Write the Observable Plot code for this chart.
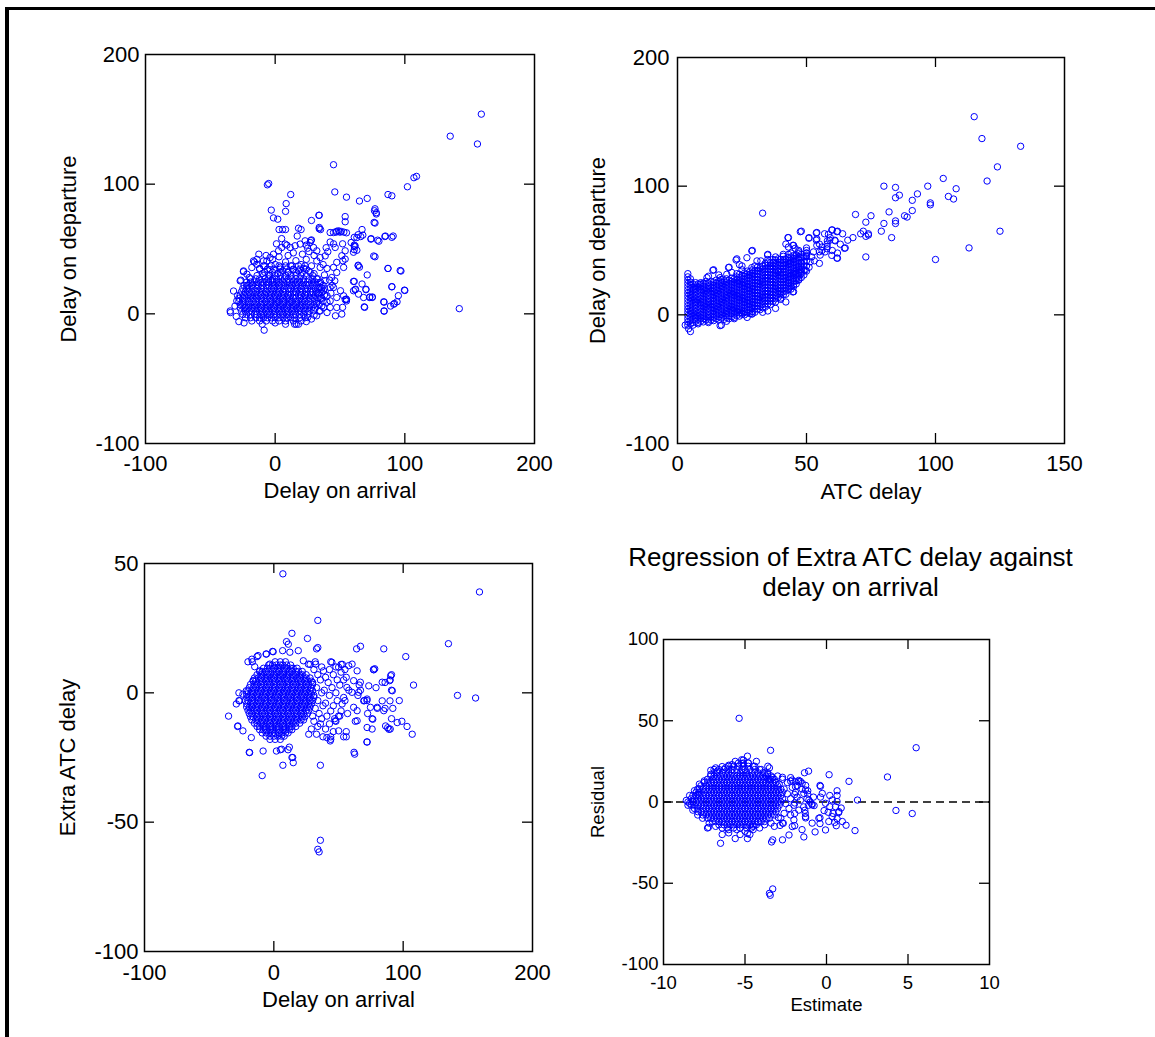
<!DOCTYPE html>
<html>
<head>
<meta charset="utf-8">
<script src="https://cdn.jsdelivr.net/npm/d3@7"></script>
<script src="https://cdn.jsdelivr.net/npm/@observablehq/plot@0.6"></script>
<style>
html,body{margin:0;padding:0;background:#fff;}
#wrap{position:relative;width:1155px;height:1037px;overflow:hidden;background:#fff;font-family:Arial,"Liberation Sans",sans-serif;}
#wrap svg{position:absolute;}
#border{position:absolute;left:5px;top:7px;width:1300px;height:1200px;border-left:4px solid #000;border-top:3px solid #000;pointer-events:none;z-index:5;}
</style>
</head>
<body>
<div id="wrap"><div id="border"></div></div>
<script>
// ---------- axis ticks & labels ----------
const arrTicks = [-100, 0, 100, 200];
const arrInner = [0, 100];
const depTicks = [-100, 0, 100, 200];
const depInner = [0, 100];
const atcTicks = [0, 50, 100, 150];
const atcInner = [50, 100];
const extraTicks = [-100, -50, 0, 50];
const extraInner = [-50, 0];
const estTicks = [-10, -5, 0, 5, 10];
const estInner = [-5, 0, 5];
const resTicks = [-100, -50, 0, 50, 100];
const resInner = [-50, 0, 50];
const labels = {
  arrival: "Delay on arrival",
  departure: "Delay on departure",
  atc: "ATC delay",
  extra: "Extra ATC delay",
  estimate: "Estimate",
  residual: "Residual",
  title: "Regression of Extra ATC delay against\ndelay on arrival"
};

// ---------- Panel 1: departure vs arrival ----------
const p1CoreRows = [
[37,[-9,-3,3,8,13,18,23]],
[34.5,[-12,-6,-1,4,9,14,19,24]],
[32,[-8,-2,4,10,16,21,27]],
[29.5,[-14,-9,-4,0,4,8,12,16,20,24,29]],
[27,[-19,-15,-12,-8,-5,-2,1,4,7,10,13,16,19,22,26,29,33]],
[24.5,[-22,-19,-16,-13,-10,-7,-5,-2,1,3,6,9,11,14,17,19,22,25,28,31,35]],
[22,[-24,-21,-18,-15,-13,-10,-7,-5,-2,0,3,5,8,11,13,16,18,21,24,26,29,32,37]],
[19.5,[-25,-22,-20,-17,-14,-11,-9,-6,-3,-1,2,4,7,10,12,15,17,20,23,25,28,31,34,38]],
[17,[-26,-23,-20,-18,-15,-12,-10,-7,-4,-2,1,3,6,8,11,14,16,19,21,24,27,29,32,36]],
[14.5,[-27,-24,-21,-19,-16,-13,-11,-8,-5,-3,0,2,5,7,10,12,15,18,20,23,25,28,31,34,38]],
[12,[-28,-25,-22,-19,-17,-14,-11,-9,-6,-4,-1,1,4,6,9,11,14,16,19,22,24,27,30,33,36]],
[9.5,[-28,-25,-23,-20,-17,-15,-12,-10,-7,-4,-2,1,3,6,8,11,13,16,18,21,23,26,29,32,37]],
[7,[-27,-25,-22,-19,-16,-14,-11,-9,-6,-4,-1,1,4,6,9,11,14,16,19,21,24,27,30,34]],
[4.5,[-27,-24,-21,-18,-16,-13,-11,-8,-6,-3,-1,2,4,7,9,12,14,17,19,22,25,28,31]],
[2,[-26,-23,-20,-18,-15,-12,-10,-7,-5,-2,0,3,5,8,10,13,15,18,20,23,26]],
[-0.5,[-25,-22,-19,-16,-14,-11,-9,-6,-4,-1,1,4,6,9,11,14,16,19,22,25]],
[-3,[-23,-19,-15,-12,-9,-6,-3,0,3,6,9,12,15,19,23]],
[-5.5,[-18,-12,-7,-2,3,8,14,20]]
];
const p1Points = [
[159,154],[135,137],[156,131],[45,115],[-6,99.5],[-5,100.5],[109,106],[107,105],[102,98],[46,94],[12,92],[55,90],[87,92],[90,91],[71,89],[65,87],[8.5,85],[-3,80],[8,79],[77,81],[78,78],[78,77],[2,73],[34,76],[28,72],[54,75],[54,71],[77,70],[67,65],[3,65],[8,65],[20,65],[34,65.6],[35,65],[17,60],[5,58],[47,63],[49,64],[51,63.5],[53,63],[55,62.5],[64,61],[61,59],[74,58],[80,56],[85,60],[90,59],[91,60],[52,54],[61,53],[63,49],[61,49.5],[1,54],[9,53],[24,53],[28,57],[77,44],[64,37],[65,36],[71,30],[87,35],[97,33],[61,25],[62,19],[67,23],[70,19],[90,21],[100,18],[73,13],[75,13],[95,14],[69,5],[84,9],[92,8],[89,6],[84,2],[142,4],[54,11],[55,11],[52,5],[-8.5,-12.6],[-34.5,1],[-24.5,32.5],[-26.5,26],[-12.6,46],[-16,40],[15,-8],[18,-8],
[-1.3,74],[5.7,65],[18,66],[33.7,76],[47.5,63.7],[50,63],[63,58.8],[66,59.6],[67.6,60.7],[58.6,55],[61.7,52.4],[73.8,57.6],[76.6,79.5],[76.3,70.5],[84.6,59.6],[79,56.8],[76,44.6],[64,37.5],[96.4,33.4],[87,35],[90,20.8],[99.7,18.3],[70,18.6],[72.8,12.6],[74.8,12.6],[60.4,25],[61.7,18.6],[55,9.9],[83.7,9.3],[91.4,7.4],[94,9.3],[84,2.3],[68.7,5.4],[27.5,56.5],[25,50.6],[42.4,62.7],[45,62.7],[39.3,51],[40.6,47.9],[42.4,55.4],[45,54],[46.3,51.2],[34,66.6],[54,48.6],[51.4,44.8],[52.2,40.9],[61,52],[60.4,47.5],[54,42.2],[52.8,35.8],[45,35.8],[47.5,31.9],[46,25.5],[45,20.3],[50.4,17.8],[52.8,13.9],[54.8,11.4],[60.4,17.8],[64.3,15.2],[68.2,12.6],[51.4,-0.2],[46.5,-1.5],[34.7,2.3],[40,1],[16.3,-8],[25,-2.8],[32,-1.5],[29.6,2.3],[37.3,4.9],[42.4,4.9],[47.5,4.9],[42.4,10],[47.5,12.6],[40,13.9],[37.3,17.8],[34.7,20.3],[42.4,20.3],[38.5,25.5],[43.6,28],[47.5,39.7],[34.7,35.8],[32.1,40.8],[34.7,43.4],[38.6,44.7],[32.1,48.6],[29.6,51.2],[27,55],[23.1,56.3],[19.3,53.8],[15.4,52.5],[11.6,51.2],[7.7,53.8],[5.1,51.2],[2.6,48.6],[-1.3,46],[-3.9,43.4],[-6.4,40.8],[-9,40.8],[-14.2,38.2],[-16.7,40.8],[-18,35.7],[-21.8,30.6],[-24.4,33.1],[-27,25.4],[-32.1,17.6],[-34.7,2.2],[-29.6,10],[-23.1,4.9],
[-12,35],[-8,37],[-4,34],[0,38],[4,36],[8,40],[12,37],[16,41],[20,38],[24,42],[28,37],[-10,31],[-5,30],[2,31],[6,33],[10,32],[14,34],[18,33],[22,35],[26,33],[30,31],[32,27],[34,24],[36,20],[33,16],[35,12],[32,8],[36,6],[34,2],[-2,42],[3,44],[10,45],[14,47],[21,46],[26,48],[30,45],[-14,42],[-7,45],[38,30],[40,35],[37,38],[42,26],[44,22],[40,9],[43,16],[-20,28],[-22,22],[-29,14],[-31,6],[-30,-2],[-28,-6],[-24,-7],[-10,-8],[0,-7],[8,-8],[24,-6],[28,-4],[30,-1]
];

// ---------- Panel 2: departure vs ATC delay ----------
const p2CoreCols = [
[4,[-8,-5.5,-3,-0.5,2,4.5,7,9.5,12,14.5,17,19.5,22,24.5,27,29.5,32]],
[5,[-7,-4.5,-2,0.5,3,5.5,8,10.5,13,15.5,18,20.5,23,25.5,28]],
[6,[-6,-3.5,-1,1.5,4,6.5,9,11.5,14,16.5,19,21.5,24]],
[7,[-5,-2.5,0,2.5,5,7.5,10,12.5,15,17.5,20,22.5,25]],
[8,[-6,-3.5,-1,1.5,4,6.5,9,11.5,14,16.5,19,21.5,24]],
[9,[-5,-2.5,0,2.5,5,7.5,10,12.5,15,17.5,20,22.5,25]],
[10,[-5.5,-3,-0.5,2,4.5,7,9.5,12,14.5,17,19.5,22,24.5]],
[11,[-4,-1.5,1,3.5,6,8.5,11,13.5,16,18.5,21,23.5,26]],
[12,[-5,-2.5,0,2.5,5,7.5,10,12.5,15,17.5,20,22.5,25]],
[13,[-4,-1.5,1,3.5,6,8.5,11,13.5,16,18.5,21,23.5,26]],
[14,[-4.5,-2,0.5,3,5.5,8,10.5,13,15.5,18,20.5,23,25.5]],
[15,[-3,-0.5,2,4.5,7,9.5,12,14.5,17,19.5,22,24.5,27]],
[16,[-4,-1.5,1,3.5,6,8.5,11,13.5,16,18.5,21,23.5,26]],
[17,[-2.5,0,2.5,5,7.5,10,12.5,15,17.5,20,22.5,25,27.5]],
[18,[-3.5,-1,1.5,4,6.5,9,11.5,14,16.5,19,21.5,24,26.5]],
[19,[-2,0.5,3,5.5,8,10.5,13,15.5,18,20.5,23,25.5,28]],
[20,[-3,-0.5,2,4.5,7,9.5,12,14.5,17,19.5,22,24.5,27]],
[21,[-1.5,1,3.5,6,8.5,11,13.5,16,18.5,21,23.5,26,28.5]],
[22,[-2,0.5,3,5.5,8,10.5,13,15.5,18,20.5,23,25.5,28]],
[23,[-0.5,2,4.5,7,9.5,12,14.5,17,19.5,22,24.5,27,29.5,32]],
[24,[-1,1.5,4,6.5,9,11.5,14,16.5,19,21.5,24,26.5,29,31.5]],
[25,[0.5,3,5.5,8,10.5,13,15.5,18,20.5,23,25.5,28,30.5]],
[26,[0,2.5,5,7.5,10,12.5,15,17.5,20,22.5,25,27.5,30,32.5]],
[27,[1.5,4,6.5,9,11.5,14,16.5,19,21.5,24,26.5,29,31.5,34]],
[28,[1,3.5,6,8.5,11,13.5,16,18.5,21,23.5,26,28.5,31,33.5]],
[29,[2.5,5,7.5,10,12.5,15,17.5,20,22.5,25,27.5,30,32.5,35]],
[30,[2,4.5,7,9.5,12,14.5,17,19.5,22,24.5,27,29.5,32,34.5]],
[31,[4.5,7,9.5,12,14.5,17,19.5,22,24.5,27,29.5,32,34.5,37]],
[32,[4,6.5,9,11.5,14,16.5,19,21.5,24,26.5,29,31.5,34,36.5]],
[33,[5.5,8,10.5,13,15.5,18,20.5,23,25.5,28,30.5,33,35.5,38]],
[34,[6,8.5,11,13.5,16,18.5,21,23.5,26,28.5,31,33.5,36,38.5]],
[35,[8.5,11,13.5,16,18.5,21,23.5,26,28.5,31,33.5,36,38.5,41]],
[36,[8,10.5,13,15.5,18,20.5,23,25.5,28,30.5,33,35.5,38,40.5]],
[37,[10.5,13,15.5,18,20.5,23,25.5,28,30.5,33,35.5,38,40.5,43]],
[38,[10,12.5,15,17.5,20,22.5,25,27.5,30,32.5,35,37.5,40,42.5]],
[39,[13.5,16,18.5,21,23.5,26,28.5,31,33.5,36,38.5,41,43.5]],
[40,[13,15.5,18,20.5,23,25.5,28,30.5,33,35.5,38,40.5,43]],
[41,[15.5,18,20.5,23,25.5,28,30.5,33,35.5,38,40.5,43,45.5]],
[42,[16,18.5,21,23.5,26,28.5,31,33.5,36,38.5,41,43.5]],
[43,[19.5,22,24.5,27,29.5,32,34.5,37,39.5,42,44.5,47]],
[44,[20,22.5,25,27.5,30,32.5,35,37.5,40,42.5,45]],
[45,[23.5,26,28.5,31,33.5,36,38.5,41,43.5,46]],
[46,[24,26.5,29,31.5,34,36.5,39,41.5,44,46.5]],
[47,[27.5,30,32.5,35,37.5,40,42.5,45,47.5]],
[48,[29,32,35,38,41,44,47]],
[49,[31,34.5,38,41.5,45]],
[50,[34,38,42,46,50]]
];
const p2Points = [
[115,154],[118,137],[133,131],[124,115],[120,104],[103,106],[108,98],[105,92],[107,90],[97,100],[98,87],[98,85.5],[93,94],[91,89],[91,81],[89,76],[88,77],[80,100],[84.5,99],[84.5,91],[86,93],[82,80],[84.5,73],[84.5,71],[80,71],[79,65],[83,60],[75,77],[73,72],[69,78],[74,63],[74,62],[72,65],[71,63],[73,61],[73,45],[100,43],[113,52],[125,65],[33,79],[68,60],[66,58],[64,63],[65,52],[60,66],[62,65],[61,58],[62,44],[57,63],[59,58],[58,53],[54,64],[54,59],[55,55],[55,49],[51,60],[48,65],[43,60],[42,55],[45,54],[47,49],[50,48],[29,50],[35,47],[35,43],[14,35],[20,37],[23,43.5],[24,39],[45,18],[35,3],[29,1],[25,1.5],[17,-8],[3,-8],[5,-13],
[13.7,34.6],[22.7,42.6],[19.8,36.7],[28.8,49.6],[34.9,46.5],[30.8,41.9],[42.8,60],[43,52.7],[44.7,54],[45.6,51.7],[47.6,64.6],[50.9,59.5],[53.8,63.6],[53.8,58],[59.8,65.9],[61.8,64.6],[58.5,62.6],[59.2,60],[58.1,57.5],[61.1,57.5],[63.1,54.9],[61.8,44.1],[43.7,39.9],[45,32.2],[46.9,37.4],[49.9,45.1],[51.4,41.2],[49.5,34.8],[55.3,46.4],[57.2,48.9],[52.7,48.9],[54,54],[56,52.7],[57.9,51.4],[59.8,46.2],[64.7,51.7],[26.9,44.4],[37.2,40.6],[39.1,34.2],[35.9,35.4],[32.3,41.9],[28.8,36.7],[25,38],[19.1,31.5],[16.5,28.9],[11.4,28.9],[8.8,23.8],[6.2,19.9],[44.7,17.8],[28.8,0.5],[16.5,-8.4],[4.3,-10.8],
[12,30],[16,31],[21,33],[25,35],[30,38],[34,40],[38,45],[41,47],[44,48],[47,50],[50,52],[52,45],[48,40],[46,28],[48,33],[51,37],[53,42],[55,40],[50,48],[56,50],[58,55],[60,50],[62,48],[43,25],[45,22],[47,27],[40,12],[42,10],[38,5],[33,2],[27,-2],[22,-3],[12,-6],[8,-7],[19,-5],[6,-8]
];

// ---------- Panel 3: extra ATC delay vs arrival ----------
const p3CoreRows = [
[12,[1,5,9]],
[10.75,[-4,-1,2,5,7,10,13]],
[9.5,[-8,-5,-3,0,3,5,8,10,13,15,18]],
[8.25,[-11,-9,-6,-4,-1,2,4,7,9,12,14,17,19,22]],
[7,[-13,-10,-8,-5,-3,0,2,5,7,10,12,15,17,20,22,25]],
[5.75,[-15,-12,-10,-7,-5,-2,0,3,5,8,10,13,15,18,20,23,25,28]],
[4.5,[-16,-14,-11,-9,-6,-4,-1,1,4,6,9,11,14,16,19,21,24,26,29]],
[3.25,[-18,-15,-13,-10,-8,-5,-3,0,2,5,7,10,12,15,17,20,22,25,27,30]],
[2,[-19,-16,-14,-11,-9,-6,-4,-1,1,4,6,9,11,14,16,19,21,24,26,29]],
[0.75,[-20,-17,-15,-12,-10,-7,-5,-2,0,3,5,8,10,13,15,18,20,23,25,28,30]],
[-0.5,[-21,-18,-16,-13,-11,-8,-6,-3,-1,2,4,7,9,12,14,17,19,22,24,27,29]],
[-1.75,[-21,-19,-17,-14,-12,-9,-7,-4,-2,1,3,6,8,11,13,16,18,21,23,26,28,31]],
[-3,[-22,-20,-17,-15,-12,-10,-7,-5,-2,0,3,5,8,10,13,15,18,20,23,25,28,30]],
[-4.25,[-21,-18,-16,-13,-11,-8,-6,-3,-1,2,4,7,9,12,14,17,19,22,24,27,29]],
[-5.5,[-21,-19,-17,-14,-12,-9,-7,-4,-2,1,3,6,8,11,13,16,18,21,23,26,28]],
[-6.75,[-20,-18,-15,-13,-10,-8,-5,-3,0,2,5,7,10,12,15,17,20,22,25,27]],
[-8,[-19,-17,-14,-12,-9,-7,-4,-2,1,3,6,8,11,13,16,18,21,23,26]],
[-9.25,[-18,-16,-13,-11,-8,-6,-3,-1,2,4,7,9,12,14,17,19,22,24]],
[-10.5,[-17,-14,-12,-9,-7,-4,-2,1,3,6,8,11,13,16,18,21,23]],
[-11.75,[-15,-13,-10,-8,-5,-3,0,2,5,7,10,12,15,17,20]],
[-13,[-13,-11,-8,-6,-3,-1,2,4,7,9,12,14,17]],
[-14.25,[-11,-8,-6,-3,-1,2,4,7,9,12,14]],
[-15.5,[-9,-6,-4,-1,1,4,6,9,11]],
[-16.75,[-6,-3,0,3,6,8]],
[-18,[-3,1,5]]
];
const p3Points = [
[7,46],[159,39],[34,28],[14,23],[26,21],[33,17],[34,17.5],[64,17],[67,18],[85,17],[135,19],[102,14],[44,12],[48,10],[52,11],[53,11],[55,9],[77,9],[78,9.3],[91,7],[90,5],[108,3],[79,2],[86,4],[142,-1],[156,-2],[91,1],[97,-3],[92,-6],[80,-6],[86,-6],[66,3],[67,1],[65,-1],[70,-3],[72,-3],[72.5,-8],[76,-10],[91,-10],[99,-11],[103,-13],[107,-16],[88,-13.5],[90,-14],[76,-14],[72,-19],[62,-23],[56,-17],[56,-15],[63,-11],[48,-11],[51,-9],[44,-18],[44,-17],[36,-28],[7,-28],[-9,-32],[15,-27],[14,-25],[-19,-23],[5,-22],[11,-22],[12,-21],[-35,-9],[-27,-3],[-27,0],[-28,-13],[36,-57],[34,-60.5],[35,-61.5],[-20,12],[-17,13],[-6,15],[-1,16],[-13,14],
[9.8,19.8],[11.2,18.8],[6.8,16.3],[12.4,15.7],[-0.5,15.9],[-5.7,15],[-12.2,14.4],[-16.6,12],[-14.8,10.1],[18.9,16.3],[22.8,12.4],[26.7,11.1],[32.4,11.1],[38.4,8.5],[44.9,11.8],[50.1,9.9],[57.9,10.5],[60.5,11.1],[64.4,8.5],[73.4,2.7],[77.3,8.9],[83.8,4.1],[90.3,6.6],[89.5,4.7],[91.6,0.8],[83.8,-3.1],[89.8,-3.1],[61.7,4.7],[66.9,4.1],[56.5,2.1],[60.4,0.2],[65.6,0.2],[69.5,-3.1],[72.1,-2.4],[54,-1.8],[52.8,-4.3],[61.7,-5.6],[64.4,-6.9],[74.7,-5.6],[79.9,-5.6],[85,-6.9],[76.5,-10.2],[72.1,-13.4],[64.4,-10.8],[86.4,-12.8],[89,-14.1],[95.4,-11.5],[54,-17],[43.6,-18.6],[41,-17.3],[50.1,-14.7],[47.5,-10.8],[62.5,-23.7],[72.1,-19],[-18.7,-23.1],[14.6,-25],[6,-21.8],[2,-22.5],[-8.3,-22.5],[-27.8,-12.8],[-23.9,-14.7],[-17.4,-17.3],[-29,-4.3],[-26.5,-3.1],[-23.9,-0.5],[-21.3,0.8],[-16.1,4.7],[-10.9,8.5],[-3.1,11.1],
[31,9],[34,7],[37,10],[40,6],[43,9],[46,7],[49,5],[52,8],[30,4],[33,2],[36,5],[39,1],[42,4],[45,2],[48,0],[51,3],[54,5],[31,-1],[34,-3],[37,0],[40,-4],[43,-1],[46,-5],[49,-3],[52,-7],[32,-6],[35,-8],[38,-5],[41,-9],[44,-7],[47,-10],[50,-9],[31,-11],[34,-13],[37,-10],[40,-14],[43,-12],[46,-15],[33,-16],[38,-17],[29,-14],[27,-16],[32,12],[28,11],[55,-3],[57,-8],[56,6],[58,1],[30,-9],[36,-12]
];

// ---------- Panel 4: residual vs estimate ----------
const p4CoreRows = [
[24,[-5.4,-5.1,-4.8]],
[22,[-6.0,-5.7,-5.4,-5.1,-4.8,-4.5]],
[20,[-6.6,-6.3,-6.0,-5.8,-5.5,-5.2,-5.0,-4.7,-4.4,-4.1]],
[18,[-6.9,-6.7,-6.4,-6.2,-6.0,-5.8,-5.5,-5.3,-5.1,-4.9,-4.6,-4.4,-4.2,-3.9,-3.6]],
[16,[-7.1,-6.9,-6.7,-6.5,-6.3,-6.1,-5.9,-5.7,-5.5,-5.3,-5.1,-4.9,-4.7,-4.5,-4.3,-4.1,-3.9,-3.7,-3.4]],
[14,[-7.3,-7.0,-6.8,-6.6,-6.4,-6.2,-6.0,-5.8,-5.6,-5.4,-5.2,-5.0,-4.8,-4.6,-4.4,-4.2,-4.0,-3.8,-3.6,-3.4,-3.2]],
[12,[-7.5,-7.3,-7.1,-6.9,-6.7,-6.5,-6.3,-6.1,-5.9,-5.7,-5.5,-5.3,-5.1,-4.9,-4.7,-4.5,-4.3,-4.1,-3.9,-3.7,-3.5,-3.3,-3.1]],
[10,[-7.7,-7.4,-7.2,-7.0,-6.8,-6.6,-6.4,-6.2,-6.0,-5.8,-5.6,-5.4,-5.2,-5.0,-4.8,-4.6,-4.4,-4.2,-4.0,-3.8,-3.6,-3.4,-3.2,-3.0]],
[8,[-7.9,-7.6,-7.4,-7.2,-7.0,-6.8,-6.6,-6.4,-6.2,-6.0,-5.8,-5.6,-5.4,-5.2,-5.0,-4.8,-4.6,-4.4,-4.2,-4.0,-3.8,-3.6,-3.4,-3.2,-3.0,-2.8]],
[6,[-8.0,-7.8,-7.5,-7.3,-7.1,-6.9,-6.7,-6.5,-6.3,-6.1,-5.9,-5.7,-5.5,-5.3,-5.1,-4.9,-4.7,-4.5,-4.3,-4.1,-3.9,-3.7,-3.5,-3.3,-3.1,-2.9,-2.7]],
[4,[-8.2,-8.0,-7.8,-7.6,-7.4,-7.2,-7.0,-6.8,-6.6,-6.4,-6.2,-6.0,-5.8,-5.6,-5.4,-5.2,-5.0,-4.8,-4.6,-4.4,-4.2,-4.0,-3.8,-3.6,-3.4,-3.2,-3.0,-2.8]],
[2,[-8.3,-8.1,-7.9,-7.7,-7.5,-7.3,-7.1,-6.9,-6.7,-6.5,-6.3,-6.1,-5.9,-5.7,-5.5,-5.3,-5.1,-4.9,-4.7,-4.5,-4.3,-4.1,-3.9,-3.7,-3.5,-3.3,-3.1,-2.9,-2.7]],
[0,[-8.5,-8.2,-8.0,-7.8,-7.6,-7.4,-7.2,-7.0,-6.8,-6.6,-6.4,-6.2,-6.0,-5.8,-5.6,-5.4,-5.2,-5.0,-4.8,-4.6,-4.4,-4.2,-4.0,-3.8,-3.6,-3.4,-3.2,-3.0,-2.8]],
[-2,[-8.3,-8.1,-7.9,-7.7,-7.5,-7.3,-7.1,-6.9,-6.7,-6.5,-6.3,-6.1,-5.9,-5.7,-5.5,-5.3,-5.1,-4.9,-4.7,-4.5,-4.3,-4.1,-3.9,-3.7,-3.5,-3.3,-3.1,-2.9]],
[-4,[-8.1,-7.9,-7.6,-7.4,-7.2,-7.0,-6.8,-6.6,-6.4,-6.2,-6.0,-5.8,-5.6,-5.4,-5.2,-5.0,-4.8,-4.6,-4.4,-4.2,-4.0,-3.8,-3.6,-3.4,-3.2,-3.0]],
[-6,[-7.9,-7.7,-7.5,-7.3,-7.1,-6.9,-6.7,-6.5,-6.3,-6.1,-5.9,-5.7,-5.5,-5.3,-5.1,-4.9,-4.7,-4.5,-4.3,-4.1,-3.9,-3.7,-3.5,-3.3,-3.1]],
[-8,[-7.6,-7.4,-7.2,-7.0,-6.8,-6.6,-6.4,-6.2,-6.0,-5.8,-5.6,-5.4,-5.2,-5.0,-4.8,-4.6,-4.4,-4.2,-4.0,-3.8,-3.6,-3.4,-3.2]],
[-10,[-7.3,-7.1,-6.9,-6.7,-6.5,-6.3,-6.1,-5.9,-5.7,-5.5,-5.3,-5.1,-4.9,-4.7,-4.5,-4.3,-4.1,-3.9,-3.7,-3.5]],
[-12,[-7.0,-6.8,-6.6,-6.4,-6.2,-6.0,-5.8,-5.6,-5.4,-5.2,-5.0,-4.8,-4.6,-4.4,-4.2,-4.0,-3.8]],
[-14,[-6.6,-6.3,-6.1,-5.9,-5.7,-5.5,-5.3,-5.1,-4.9,-4.7,-4.5,-4.3]],
[-16,[-6.1,-5.7,-5.3,-4.9,-4.6]]
];
const p4Points = [
[-5.36,51.5],[5.5,33.4],[-3.43,31.8],[3.74,15.4],[1.38,12.7],[0.16,16.8],[-1.1,19],[-1.35,18],[1.9,1.2],[4.26,-5.2],[5.26,-7.1],[1.75,-17.6],[1.2,-14.3],[0.97,-12],[0.6,-14.6],[0.5,-12.6],[0.65,-10.3],[0.9,-3.7],[0.75,-6.5],[0.65,0.3],[0.65,4],[0.65,6.9],[0.2,4],[0.2,-2.9],[-0.15,-5.3],[0.1,-6.3],[0.4,-7],[-0.7,-18.4],[-0.4,-13.3],[-0.4,-9.7],[-0.37,9.6],[-0.4,10.2],[-0.37,3],[-1.39,-21.5],[-1.28,-9.8],[-1.33,-5.1],[-0.9,-1.2],[-0.76,-2.2],[-1.15,4.9],[-1.15,6.9],[-1.28,10.2],[-1.6,12.7],[-1.7,13.3],[-3.37,-24.6],[-3.5,-56.2],[-3.45,-57.4],[-3.3,-53.5],[-6.5,-25.4],[-5.6,-22.5],[-4.85,-22.5],[-4.85,-19.4],[-7.24,-15.6],[-8.4,-0.8],[-8.2,0.2],[-7.9,4.7],[-7.8,8.2],[-7.1,19.5],[-6.9,20],[-6.8,21],[-6.4,21.8],[-6.0,22.6],[-4.85,28.2],[-5.1,25.8],[-5.2,23.7],[-4.3,25],[-3.5,21],[-2.7,15.2],[-2.2,12.8],[-1.95,4.6],[-1.95,-0.6],[-1.95,-7.1],[-1.95,-14.6],[-2.85,-14.4],[-2.65,-13.1],[-2.95,-9.6],
[-2.9,11],[-2.6,8],[-2.4,5],[-2.2,2],[-2.5,-1],[-2.3,-4],[-2.6,-7],[-2.8,-10],[-2.1,9],[-1.9,6],[-1.8,3],[-2,-2],[-1.7,-5],[-2.2,-8],[-1.6,1],[-1.5,8],[-1.4,-3],[-1.2,2],[-1.8,10],[-2.4,12],[-2.0,-11],[-2.7,14],[-3.0,16],[-3.3,15],[-3.6,17],[-2.2,15],[-1.9,12.5],[-1.3,-7],[-1.0,0],[-0.8,3],[-1.1,-2],[-3.4,-13],[-3.8,-14],[-4.1,-16],[-4.5,-17],[-5.0,-18],[-5.5,-17],[-6.0,-17],[-6.4,-16],[-6.8,-15],[-7.2,-13],[-7.6,-10],[-7.9,-8],[-8.2,-5],[-8.5,-2],[-8.6,1],[-8.4,4],[-8.1,7],[-7.8,11],[-7.5,13],[-7.1,17],[-6.7,19],[-6.2,21],[-5.8,23],[-5.6,25],[-5.2,26],[-4.8,24],[-4.4,22],[-4.0,20],[-3.8,18],[-3.5,14],[-7.3,-16],[-6.4,-20],[-6.0,-19],[-5.3,-20],[-4.7,-20],[-3.2,-15],[-2.7,-13],[-3.6,22],[-4.5,-15],
[-2.11,13.5],[-1.9,9.4],[-1.7,12.5],[-1.49,11.5],[-1.29,7.4],[-1.39,5.3],[-1.08,1.25],[-0.88,-1.8],[-0.26,5.3],[-0.06,-0.8],[0.35,1.25],[0.55,-2.9],[0.76,-5.9],[0.35,-9],[0.14,-12],[-0.47,-10],[-1.29,-9],[-0.88,-13],[-1.5,-17],[-2.1,-15.1],[-2.3,-20.3],[-2.7,-23.3],[-3.3,-23.3],[-0.06,-17.2]
];

// ---------- helpers ----------
const fromRows = rows => rows.flatMap(([y, xs]) => xs.map(x => ({x, y})));
const fromCols = cols => cols.flatMap(([x, ys]) => ys.map(y => ({x, y})));
const fromPairs = ps => ps.map(([x, y]) => ({x, y}));

const FONT = "Arial, 'Liberation Sans', sans-serif";
const wrap = document.getElementById("wrap");

function panel(o) {
  const fw = o.width - o.mL - o.mR, fh = o.height - o.mT - o.mB;
  const fmt = d => String(d);
  const svg = Plot.plot({
    width: o.width, height: o.height,
    marginLeft: o.mL, marginRight: o.mR, marginTop: o.mT, marginBottom: o.mB,
    style: {fontFamily: FONT, fontSize: o.fs + "px", color: "#000", background: "transparent", overflow: "visible"},
    x: {domain: o.xDomain},
    y: {domain: o.yDomain},
    marks: [
      ...(o.extra || []),
      Plot.dot(o.dots, {x: "x", y: "y", r: 3.2, stroke: "#0000ff", strokeWidth: 1, fill: "none"}),
      Plot.ruleX(o.xInner, {insetBottom: fh - 10, stroke: "#000", strokeWidth: 1.3}),
      Plot.ruleX(o.xInner, {insetTop: fh - 10, stroke: "#000", strokeWidth: 1.3}),
      Plot.ruleY(o.yInner, {insetRight: fw - 10, stroke: "#000", strokeWidth: 1.3}),
      Plot.ruleY(o.yInner, {insetLeft: fw - 10, stroke: "#000", strokeWidth: 1.3}),
      Plot.frame({stroke: "#000", strokeWidth: 1.5}),
      Plot.axisX(o.xTicks, {tickSize: 0, tickPadding: o.xPad, tickFormat: fmt, fontSize: o.fs, label: null, fill: "#000"}),
      Plot.axisY(o.yTicks, {tickSize: 0, tickPadding: o.yPad, tickFormat: fmt, fontSize: o.fs, label: null, fill: "#000"}),
      Plot.text([o.xLabel], {text: d => d, frameAnchor: "bottom", dy: o.xLabDy, textAnchor: "middle", lineAnchor: "middle", fontSize: o.fs, fill: "#000"}),
      Plot.text([o.yLabel], {text: d => d, frameAnchor: "left", dx: o.yLabDx, rotate: -90, textAnchor: "middle", lineAnchor: "middle", fontSize: o.fs, fill: "#000"}),
      ...(o.after || [])
    ]
  });
  svg.style.left = o.left + "px";
  svg.style.top = o.top + "px";
  wrap.insertBefore(svg, document.getElementById("border"));
}

panel({
  left: 0, top: 0, width: 580, height: 520, mL: 145, mR: 46, mT: 54, mB: 77,
  xDomain: [-100, 200], yDomain: [-100, 200],
  xTicks: arrTicks, yTicks: depTicks, xInner: arrInner, yInner: depInner,
  xLabel: labels.arrival, yLabel: labels.departure,
  fs: 22, xPad: 12, yPad: 6, xLabDy: 47, yLabDx: -77,
  dots: [...fromRows(p1CoreRows), ...fromPairs(p1Points)]
});

panel({
  left: 577, top: 0, width: 578, height: 520, mL: 100, mR: 91, mT: 57, mB: 77,
  xDomain: [0, 150], yDomain: [-100, 200],
  xTicks: atcTicks, yTicks: depTicks, xInner: atcInner, yInner: depInner,
  xLabel: labels.atc, yLabel: labels.departure,
  fs: 22, xPad: 12, yPad: 8, xLabDy: 48, yLabDx: -80,
  dots: [...fromCols(p2CoreCols), ...fromPairs(p2Points)]
});

panel({
  left: 0, top: 520, width: 580, height: 517, mL: 144, mR: 48, mT: 43, mB: 86,
  xDomain: [-100, 200], yDomain: [-100, 50],
  xTicks: arrTicks, yTicks: extraTicks, xInner: arrInner, yInner: extraInner,
  xLabel: labels.arrival, yLabel: labels.extra,
  fs: 22, xPad: 13, yPad: 6, xLabDy: 48, yLabDx: -77,
  dots: [...fromRows(p3CoreRows), ...fromPairs(p3Points)]
});

panel({
  left: 577, top: 520, width: 578, height: 517, mL: 86, mR: 166, mT: 119, mB: 73,
  xDomain: [-10, 10], yDomain: [-100, 100],
  xTicks: estTicks, yTicks: resTicks, xInner: estInner, yInner: resInner,
  xLabel: labels.estimate, yLabel: labels.residual,
  fs: 18.5, xPad: 11, yPad: 5, xLabDy: 41, yLabDx: -65,
  extra: [Plot.ruleY([0], {stroke: "#000", strokeWidth: 1.4, strokeDasharray: "8,5"})],
  dots: [...fromRows(p4CoreRows), ...fromPairs(p4Points)],
  after: [Plot.text([labels.title], {text: d => d, frameAnchor: "top", dx: 24, dy: -94.5, lineAnchor: "top", lineHeight: 1.14, fontSize: 26, fill: "#000"})]
});
</script>
</body>
</html>
